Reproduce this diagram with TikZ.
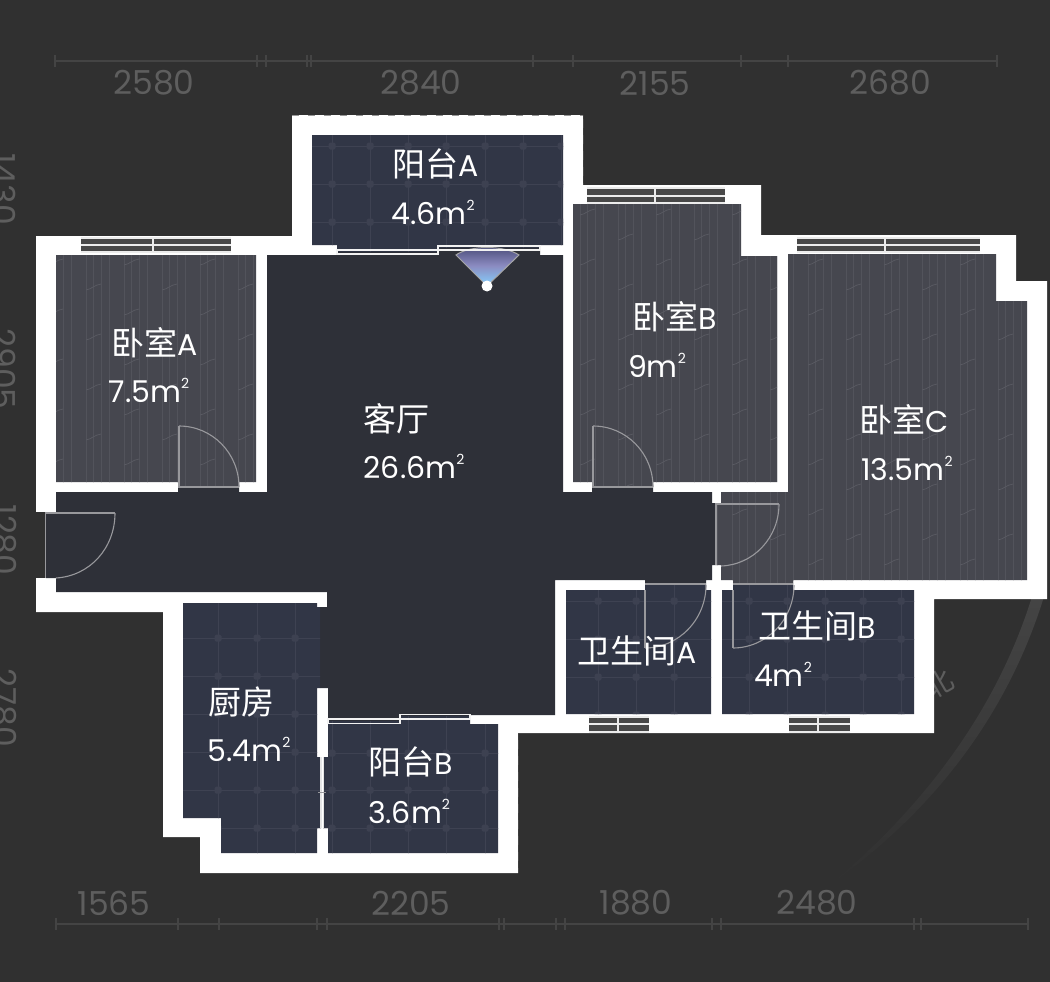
\documentclass[tikz,border=0pt]{standalone}
\usepackage{fontspec}
\setmainfont{Poppins}
\newfontfamily\cjk[Scale=1.1]{Noto Sans CJK SC}
\definecolor{pagebg}{HTML}{303030}
\definecolor{livingfill}{HTML}{2E3038}
\definecolor{woodfill}{HTML}{46474F}
\definecolor{woodline}{HTML}{52535B}
\definecolor{woodwave}{HTML}{5A5B63}
\definecolor{tilefill}{HTML}{313646}
\definecolor{tileline}{HTML}{3E4252}
\definecolor{tiledot}{HTML}{3D4151}
\definecolor{dimgray}{HTML}{5E5E5E}
\definecolor{dimline}{HTML}{444444}
\definecolor{doorgray}{HTML}{98989C}
\definecolor{winband}{HTML}{484848}
\tikzset{
    roomlabel/.style={text=white, font=\fontsize{30}{32}\selectfont, inner sep=0pt},
    dimlabel/.style={text=dimgray, font=\fontsize{33}{35}\selectfont, inner sep=0pt},
    dimrule/.style={draw=dimline, line width=1.2pt},
    doorleaf/.style={draw=doorgray, line width=2.4pt},
    doorarc/.style={draw=doorgray, line width=1.1pt},
    railline/.style={draw=white!90!gray, line width=1.2pt},
    winline/.style={draw=white!85!gray, line width=1.5pt},
}
\newcommand{\areatext}[1]{#1m\raisebox{14pt}{\fontsize{14}{14}\selectfont 2}}
\newcommand{\woodroom}[1]{%
    \begin{scope}
        \fill[woodfill] #1;
        \clip #1;
        \foreach \gk in {0,...,27}
            \foreach \gd in {0,8,23,30}
                \draw[woodline, line width=0.6pt] ({38*\gk+\gd+25},200) -- ({38*\gk+\gd+25},600);
        \foreach \gk in {0,...,13}
            \foreach \gj in {0,...,16} {
                \pgfmathsetmacro{\px}{76*\gk+38*mod(\gj,2)+10}
                \pgfmathsetmacro{\py}{25*\gj+190}
                \draw[woodwave, line width=0.7pt] (\px,\py) .. controls (\px+6,\py-1) and (\px+8,\py-5) .. (\px+15,\py-6);
            }
    \end{scope}}
\newcommand{\tileroom}[3]{%
    \begin{scope}
        \fill[tilefill] #1;
        \clip #1;
        \foreach \gx in {#2}
            \draw[tileline, line width=0.6pt] (\gx,100) -- (\gx,880);
        \foreach \gy in {#3}
            \draw[tileline, line width=0.6pt] (150,\gy) -- (930,\gy);
        \foreach \gx in {#2}
            \foreach \gy in {#3}
                \fill[tiledot, rounded corners=1.5pt] (\gx-3.5,\gy-3.5) rectangle (\gx+3.5,\gy+3.5);
    \end{scope}}
\begin{document}
\begin{tikzpicture}[x=1pt,y=-1pt]
    \useasboundingbox (0,0) rectangle (1050,982);
    \clip (0,0) rectangle (1050,982);
    \fill[pagebg] (0,0) rectangle (1050,982);

    \shade[top color=pagebg!90!white, bottom color=pagebg] (1046,590) .. controls (1010,712) and (934,812) .. (827,887) .. controls (926,806) and (1000,705) .. (1034,590) -- cycle;
    \node[text=dimgray, font=\cjk\fontsize{26}{26}\selectfont, rotate=30, inner sep=0pt] (northmark) at (939,684) {北};

    \draw[dimrule] (55,61) -- (997,61);
    \foreach \tx in {55,257,266,307,311,533,573,741,788,997}
        \draw[dimrule] (\tx,55) -- (\tx,67);
    \draw[dimrule] (56,924) -- (1028,924);
    \foreach \tx in {56,178,219,317,327,499,504,556,565,712,721,914,921,1028}
        \draw[dimrule] (\tx,918) -- (\tx,930);

    \node[dimlabel] (topa) at (154,83) {2580};
    \node[dimlabel] (topb) at (421,83) {2840};
    \node[dimlabel] (topc) at (655,83) {2155};
    \node[dimlabel] (topd) at (890,83) {2680};
    \node[dimlabel] (bota) at (114,903) {1565};
    \node[dimlabel] (botb) at (411,903) {2205};
    \node[dimlabel] (botc) at (636,903) {1880};
    \node[dimlabel] (botd) at (817,903) {2480};
    \node[dimlabel, rotate=-90] (lefta) at (4,189) {1430};
    \node[dimlabel, rotate=-90] (leftb) at (4,369) {2905};
    \node[dimlabel, rotate=-90] (leftc) at (4,540) {1280};
    \node[dimlabel, rotate=-90] (leftd) at (4,708) {2780};

    \fill[white] (36,236) -- (292,236) -- (292,115) -- (583,115) -- (583,185) -- (761,185) -- (761,235) -- (1016,235) -- (1016,281) -- (1047,281) -- (1047,599) -- (934,599) -- (934,733) -- (518,733) -- (518,873) -- (200,873) -- (200,837) -- (163,837) -- (163,612) -- (36,612) -- cycle;
    \fill[pagebg] (36,512) rectangle (45,578);
    \draw[pagebg, opacity=0.5, line width=0.8pt, dash pattern=on 7pt off 9pt] (292,115) -- (583,115) -- (583,185);
    \draw[pagebg, opacity=0.5, line width=0.8pt, dash pattern=on 7pt off 9pt] (518,733) -- (518,873);

    \fill[livingfill] (267,255) -- (337,255) -- (337,252) -- (438,252) -- (438,248) -- (540,248) -- (540,255) -- (563,255) -- (563,492) -- (573,492) -- (592,492) -- (592,487) -- (653,487) -- (653,492) -- (712,492) -- (712,503) -- (716,503) -- (716,565) -- (712,565) -- (712,580) -- (706,580) -- (706,584) -- (645,584) -- (645,580) -- (555,580) -- (555,715) -- (470,715) -- (470,716) -- (400,716) -- (400,721) -- (328,721) -- (328,688) -- (320,688) -- (320,607) -- (327,607) -- (327,592) -- (56,592) -- (56,578) -- (46,578) -- (46,512) -- (56,512) -- (56,492) -- (178,492) -- (178,487) -- (239,487) -- (239,492) -- (267,492) -- cycle;

    \woodroom{(56,255) -- (256,255) -- (256,482) -- (239,482) -- (239,487) -- (178,487) -- (178,482) -- (56,482) -- cycle}
    \woodroom{(573,204) -- (741,204) -- (741,256) -- (777,256) -- (777,482) -- (653,482) -- (653,487) -- (592,487) -- (592,482) -- (573,482) -- cycle}
    \woodroom{(788,254) -- (996,254) -- (996,301) -- (1027,301) -- (1027,580) -- (793,580) -- (793,584) -- (733,584) -- (733,580) -- (721,580) -- (721,565) -- (716,565) -- (716,503) -- (721,503) -- (721,492) -- (788,492) -- cycle}
    \tileroom{(312,135) -- (563,135) -- (563,245) -- (540,245) -- (540,248) -- (438,248) -- (438,252) -- (337,252) -- (337,245) -- (312,245) -- cycle}{332,370,408,446,485,523,561}{146,184,222}
    \tileroom{(566,590) -- (645,590) -- (645,584) -- (706,584) -- (706,590) -- (711,590) -- (711,714) -- (566,714) -- cycle}{598,636,674}{601,639,677,715}
    \tileroom{(722,590) -- (733,590) -- (733,584) -- (793,584) -- (793,590) -- (914,590) -- (914,714) -- (722,714) -- cycle}{749,787,825,863,901}{601,639,677,715}
    \tileroom{(183,603) -- (317,603) -- (317,607) -- (320,607) -- (320,688) -- (317,688) -- (317,757) -- (321,757) -- (321,828) -- (317,828) -- (317,853) -- (221,853) -- (221,818) -- (183,818) -- cycle}{218,257,295}{638,676,714,752,790,828}
    \tileroom{(328,721) -- (400,721) -- (400,716) -- (470,716) -- (470,724) -- (498,724) -- (498,853) -- (328,853) -- (328,828) -- (323,828) -- (323,757) -- (328,757) -- cycle}{332,370,408,446,485}{753,790,828}

    \shade[top color=blue!18!livingfill!85!white, bottom color=white!75!blue!70!cyan, middle color=blue!30!gray!70!white, draw=gray!70!white, line width=1pt] (487,286) -- (456,255) .. controls (470,245) and (504,245) .. (519,255) -- cycle;
    \fill[white] (487,286) circle (5.5);

    \draw[railline] (337,250) rectangle (438,254);
    \draw[railline] (438,246) rectangle (540,250);
    \draw[railline] (328,719) rectangle (400,723.5);
    \draw[railline] (400,714.5) rectangle (470,719);
    \draw[white!80!gray, line width=1.1pt] (320.5,757) -- (320.5,828) (323.5,757) -- (323.5,828);
    \draw[doorgray, line width=1pt] (318,792) -- (326,792);

    \foreach \wa/\wb/\wm/\wt/\wu/\wl in {81/231/153/238/245/252, 587/725/655/188/196/203, 797/980/885/238/245/252, 589/649/618/717/724/732, 789/850/818/717/724/732} {
        \fill[winband] (\wa,\wt) rectangle (\wb,\wl);
        \draw[winline] (\wa,\wt) -- (\wb,\wt) (\wa,\wl) -- (\wb,\wl);
        \draw[winline, line width=2.4pt] (\wa,\wu) -- (\wb,\wu);
        \draw[winline, line width=1.6pt] (\wm,\wt) -- (\wm,\wl);
    }

    \draw[doorleaf] (179,426) -- (179,487);
    \draw[doorarc] (179,426) .. controls (212,426) and (239,453) .. (239,487);
    \draw[doorarc] (178,487) -- (239,487);
    \draw[doorleaf] (593,426) -- (593,487);
    \draw[doorarc] (593,426) .. controls (626,426) and (653,453) .. (653,487);
    \draw[doorarc] (592,487) -- (653,487);
    \draw[doorleaf] (46,513) -- (115,513);
    \draw[doorarc] (115,513) .. controls (115,548) and (90,576) .. (56,578);
    \draw[doorarc] (45.5,512) -- (45.5,578);
    \draw[doorleaf] (717,504) -- (779,504);
    \draw[doorarc] (779,504) .. controls (779,538) and (753,565) .. (721,566);
    \draw[doorarc] (716,503) -- (716,565);
    \draw[doorleaf] (645,590) -- (645,648);
    \draw[doorarc] (645,648) .. controls (678,648) and (706,620) .. (706,585);
    \draw[doorarc] (645,584) -- (706,584);
    \draw[doorleaf] (733,590) -- (733,648);
    \draw[doorarc] (733,648) .. controls (766,648) and (794,620) .. (794,585);
    \draw[doorarc] (733,584) -- (793,584);

    \node[roomlabel] (balconyaname) at (436,164) {{\cjk 阳台}A};
    \node[roomlabel, anchor=base] (balconyaarea) at (433,224) {\areatext{4.6}};
    \node[roomlabel] (bedaname) at (155,343) {{\cjk 卧室}A};
    \node[roomlabel, anchor=base] (bedaarea) at (149,402) {\areatext{7.5}};
    \node[roomlabel] (livingname) at (396,419) {\cjk 客厅};
    \node[roomlabel, anchor=base] (livingarea) at (414,478) {\areatext{26.6}};
    \node[roomlabel] (bedbname) at (675,317) {{\cjk 卧室}B};
    \node[roomlabel, anchor=base] (bedbarea) at (657,377) {\areatext{9}};
    \node[roomlabel] (bedcname) at (904,420) {{\cjk 卧室}C};
    \node[roomlabel, anchor=base] (bedcarea) at (907,480) {\areatext{13.5}};
    \node[roomlabel] (bathaname) at (637,651) {{\cjk 卫生间}A};
    \node[roomlabel] (bathbname) at (817,626) {{\cjk 卫生间}B};
    \node[roomlabel, anchor=base] (bathbarea) at (783,686) {\areatext{4}};
    \node[roomlabel] (kitchenname) at (241,702) {\cjk 厨房};
    \node[roomlabel, anchor=base] (kitchenarea) at (249,761) {\areatext{5.4}};
    \node[roomlabel] (balconybname) at (411,762) {{\cjk 阳台}B};
    \node[roomlabel, anchor=base] (balconybarea) at (409,823) {\areatext{3.6}};
\end{tikzpicture}
\end{document}
